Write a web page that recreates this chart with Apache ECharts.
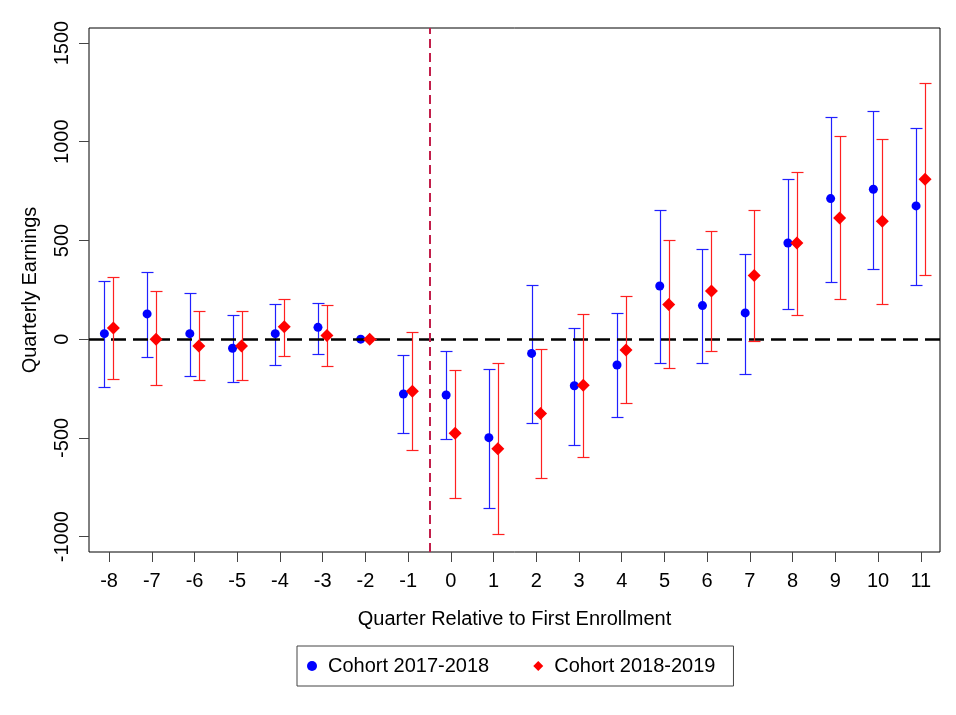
<!DOCTYPE html>
<html>
<head>
<meta charset="utf-8">
<script src="https://cdn.jsdelivr.net/npm/echarts@6/dist/echarts.min.js"></script>
<style>
  html, body { margin: 0; padding: 0; background: #fff; }
  #main { width: 956px; height: 715px; }
</style>
</head>
<body>
<div id="main"></div>
<script>
// quarters relative to first enrollment
var quarters = [-8, -7, -6, -5, -4, -3, -2, -1, 0, 1, 2, 3, 4, 5, 6, 7, 8, 9, 10, 11];
var yTicks = [-1000, -500, 0, 500, 1000, 1500];

// Cohort 2017-2018 (blue)
var blueEst = [28, 128, 28, -46, 28, 60, 0, -278, -283, -499, -72, -236, -131, 269, 170, 133, 487, 712, 759, 675];
var blueLo  = [-244, -90, -187, -219, -129, -75, 0, -477, -507, -855, -423, -534, -393, -122, -122, -175, 151, 288, 356, 276];
var blueHi  = [293, 340, 234, 124, 178, 183, 0, -80, -62, -149, 276, 57, 131, 656, 455, 430, 810, 1124, 1154, 1071];

// Cohort 2018-2019 (red)
var redEst = [57, 0, -35, -35, 63, 18, 0, -264, -477, -555, -377, -234, -55, 176, 244, 323, 487, 614, 597, 810];
var redLo  = [-202, -234, -207, -207, -87, -134, 0, -560, -803, -985, -702, -595, -323, -144, -60, -8, 124, 204, 176, 323];
var redHi  = [315, 244, 141, 141, 204, 171, 0, 35, -156, -122, -50, 129, 219, 502, 550, 656, 845, 1029, 1012, 1298];

var blueOff = -0.11;
var redOff = 0.1;

function points(est, off) {
  return quarters.map(function (q, i) { return [q + off, est[i]]; });
}
function bars(lo, hi, off) {
  return quarters.map(function (q, i) { return [q + off, lo[i], hi[i]]; });
}

// whisker with caps
function errorBar(color) {
  return function (params, api) {
    var x = api.value(0);
    var top = api.coord([x, api.value(2)]);
    var bot = api.coord([x, api.value(1)]);
    var px = Math.round(top[0]) + 0.5;
    var yt = Math.round(top[1]) + 0.5;
    var yb = Math.round(bot[1]) + 0.5;
    var hw = 6;
    var st = { stroke: color, lineWidth: 1.2 };
    return {
      type: 'group',
      children: [
        { type: 'line', shape: { x1: px, y1: yt, x2: px, y2: yb }, style: st },
        { type: 'line', shape: { x1: px - hw, y1: yt, x2: px + hw, y2: yt }, style: st },
        { type: 'line', shape: { x1: px - hw, y1: yb, x2: px + hw, y2: yb }, style: st }
      ]
    };
  };
}

var myChart = echarts.init(document.getElementById('main'));
var font = '"Liberation Sans", Arial, sans-serif';

var option = {
  backgroundColor: '#fff',
  animation: false,
  textStyle: { fontFamily: font },
  grid: {
    left: 89, right: 16, top: 28, bottom: 163,
    show: true, borderColor: '#000', borderWidth: 1, backgroundColor: 'transparent'
  },
  legend: {
    left: 297, top: 646,
    data: [
      { name: 'Cohort 2017-2018', icon: 'circle', itemStyle: { color: '#0000ff' } },
      { name: 'Cohort 2018-2019', icon: 'diamond', itemStyle: { color: '#ff0000' } }
    ],
    itemWidth: 10, itemHeight: 10, itemGap: 44,
    borderColor: '#444', borderWidth: 1,
    padding: [10, 18, 10, 10],
    textStyle: { fontSize: 20, color: '#000', fontFamily: font, padding: [0, 0, 0, 6] }
  },
  xAxis: {
    type: 'value',
    min: -8.47, max: 11.45,
    name: 'Quarter Relative to First Enrollment',
    nameLocation: 'middle', nameGap: 57,
    nameTextStyle: { fontSize: 20, color: '#000', fontFamily: font },
    axisLine: { show: false, onZero: false },
    splitLine: { show: false },
    axisTick: { show: true, length: 10, customValues: quarters, lineStyle: { color: '#444' } },
    axisLabel: { customValues: quarters, fontSize: 20, color: '#000', margin: 19, fontFamily: font }
  },
  yAxis: {
    type: 'value',
    min: -1078, max: 1576,
    name: 'Quarterly Earnings',
    nameLocation: 'middle', nameGap: 49,
    nameTextStyle: { fontSize: 20, color: '#000', fontFamily: font },
    axisLine: { show: false, onZero: false },
    splitLine: { show: false },
    axisTick: { show: true, length: 10, customValues: yTicks, lineStyle: { color: '#444' } },
    axisLabel: {
      customValues: yTicks, rotate: 90, fontSize: 20, color: '#000', margin: 17, fontFamily: font,
      formatter: function (v) { return String(v); }
    }
  },
  series: [
    {
      name: 'zero',
      type: 'line',
      data: [],
      markLine: {
        silent: true, symbol: 'none', label: { show: false },
        lineStyle: { color: '#000', width: 2.5, type: [15, 7] },
        data: [{ yAxis: 0 }]
      }
    },
    {
      name: 'start',
      type: 'line',
      data: [],
      markLine: {
        silent: true, symbol: 'none', label: { show: false },
        lineStyle: { color: '#c21e4a', width: 2, type: [9, 5] },
        data: [{ xAxis: -0.5 }]
      }
    },
    {
      type: 'custom',
      name: 'blueBars',
      renderItem: errorBar('#2020ff'),
      encode: { x: 0, y: [1, 2] },
      data: bars(blueLo, blueHi, blueOff),
      z: 3
    },
    {
      type: 'scatter',
      name: 'Cohort 2017-2018',
      symbol: 'circle', symbolSize: 9,
      itemStyle: { color: '#0000ff', opacity: 1 },
      data: points(blueEst, blueOff),
      z: 4
    },
    {
      type: 'custom',
      name: 'redBars',
      renderItem: errorBar('#ff2020'),
      encode: { x: 0, y: [1, 2] },
      data: bars(redLo, redHi, redOff),
      z: 5
    },
    {
      type: 'scatter',
      name: 'Cohort 2018-2019',
      symbol: 'diamond', symbolSize: 13,
      itemStyle: { color: '#ff0000', opacity: 1 },
      data: points(redEst, redOff),
      z: 6
    }
  ]
};

myChart.setOption(option);
</script>
</body>
</html>
